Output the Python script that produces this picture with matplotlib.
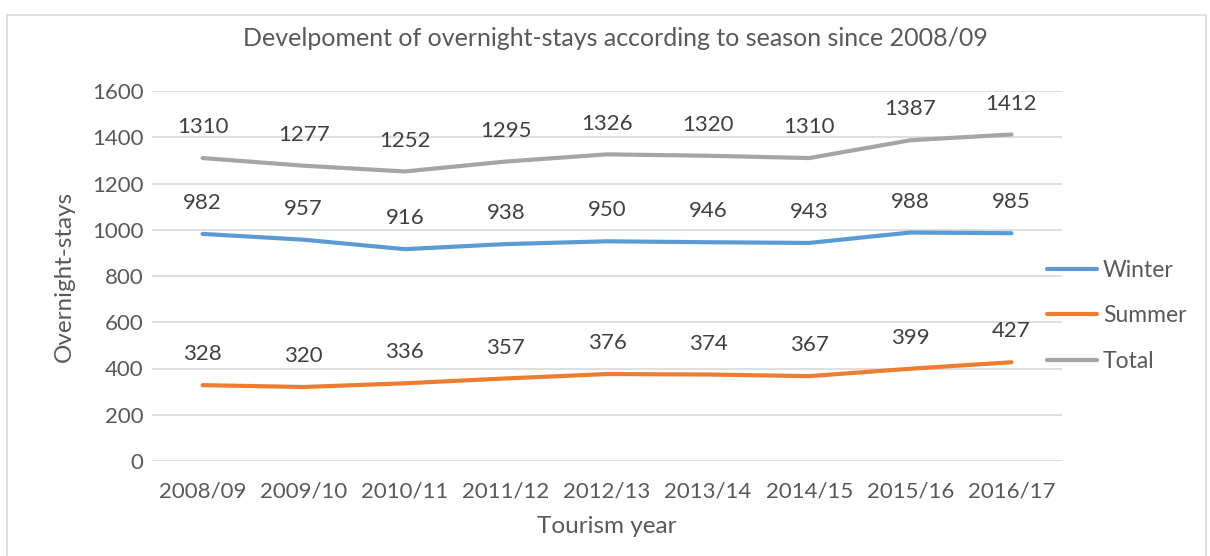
import matplotlib
matplotlib.use("Agg")
import matplotlib.pyplot as plt
from matplotlib.patches import Rectangle

plt.rcParams["font.family"] = ["Lato", "DejaVu Sans"]

SEASONS = ["2008/09", "2009/10", "2010/11", "2011/12", "2012/13",
           "2013/14", "2014/15", "2015/16", "2016/17"]
WINTER = [982, 957, 916, 938, 950, 946, 943, 988, 985]
SUMMER = [328, 320, 336, 357, 376, 374, 367, 399, 427]
TOTAL = [1310, 1277, 1252, 1295, 1326, 1320, 1310, 1387, 1412]

SERIES = [("Winter", WINTER, "#5B9BD5"),
          ("Summer", SUMMER, "#ED7D31"),
          ("Total", TOTAL, "#A5A5A5")]

W, H = 1210, 556
fig = plt.figure(figsize=(W / 100, H / 100), dpi=100)
fig.patches.append(Rectangle((7 / W, -0.1), 1199 / W, 1.1 - 15 / H,
                             transform=fig.transFigure, fill=False,
                             edgecolor="#D9D9D9", linewidth=1.2))

ax = fig.add_axes([152 / W, 1 - 461 / H, 910 / W, 370 / H])
x = list(range(len(SEASONS)))
for name, vals, col in SERIES:
    ax.plot(x, vals, color=col, linewidth=3, label=name,
            solid_capstyle="round")
    for xi, v in zip(x, vals):
        ax.annotate(str(v), (xi, v), xytext=(0, 15), textcoords="offset points",
                    ha="center", va="bottom", fontsize=16, color="#404040")

ax.set_xlim(-0.5, len(SEASONS) - 0.5)
ax.set_ylim(0, 1600)
ax.set_yticks(range(0, 1601, 200))
ax.set_xticks(x)
ax.set_xticklabels(SEASONS)
ax.grid(axis="y", color="#D9D9D9", linewidth=1.2)
ax.set_axisbelow(True)
for s in ax.spines.values():
    s.set_visible(False)
ax.tick_params(length=0, labelsize=16, labelcolor="#595959")
ax.tick_params(axis="y", pad=6)
ax.tick_params(axis="x", pad=15)

ax.set_ylabel("Overnight-stays", fontsize=17.5, color="#595959", labelpad=12)
ax.set_xlabel("Tourism year", fontsize=17.5, color="#595959", labelpad=10)
fig.text(615 / W, 1 - 38 / H,
         "Develpoment of overnight-stays according to season since 2008/09",
         ha="center", va="center", fontsize=18, color="#595959")

fig.legend(loc="center left", bbox_to_anchor=(1026 / W, 1 - 316 / H),
           frameon=False, fontsize=16.5, labelcolor="#595959",
           handlelength=2.2, handletextpad=0.25, labelspacing=1.05)

fig.savefig("out.png", dpi=100)
